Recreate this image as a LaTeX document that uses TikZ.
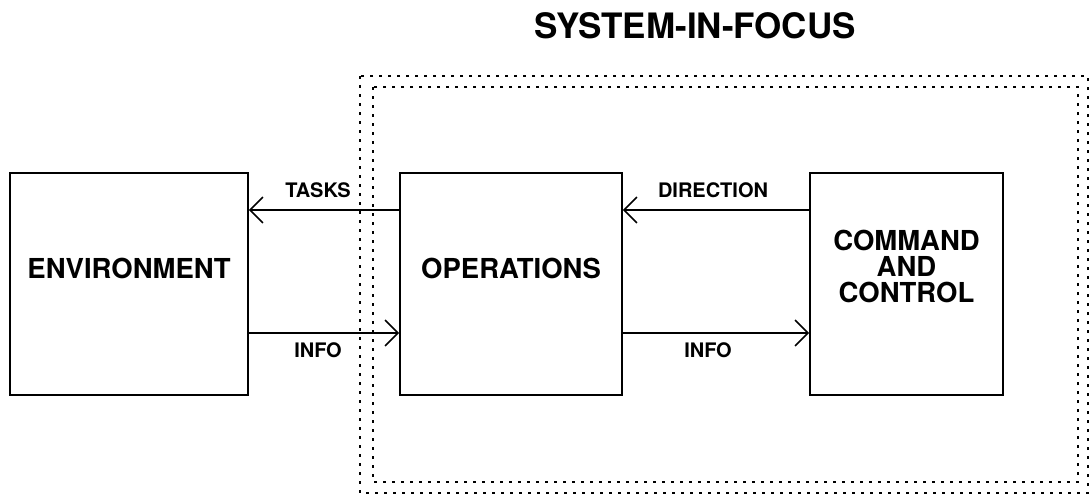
\documentclass[tikz,border=0pt]{standalone}
\usepackage{fontspec}
\setmainfont{TeX Gyre Heros}
\usetikzlibrary{arrows.meta}

\tikzset{
  block/.style={draw, line width=1.8pt, rectangle, minimum height=222pt, inner sep=0pt},
  blocktext/.style={font=\fontsize{27.5}{26}\selectfont\bfseries, align=center, inner sep=0pt},
  flow/.style={line width=1.5pt, -{Straight Barb[length=13pt,width=26pt,line width=1.5pt]}},
  flowlabel/.style={font=\fontsize{20}{20}\selectfont\bfseries, anchor=base, inner sep=0pt},
  boundary/.style={line width=1.6pt, dash pattern=on 3pt off 6pt},
}

\begin{document}
\begin{tikzpicture}[x=1pt, y=-1pt]
  \useasboundingbox (0,0) rectangle (1090,495);

  % system boundary, drawn as a double dotted frame
  \draw[boundary] (360,76) rectangle (1088,493);
  \draw[boundary] (373,87) rectangle (1078,482);

  % title
  \node[font=\fontsize{35}{35}\selectfont\bfseries, anchor=base, inner sep=0pt]
    (title) at (695,39) {SYSTEM-IN-FOCUS};

  % blocks
  \node[block, minimum width=238pt] (env) at (129,284) {};
  \node[block, minimum width=222pt] (ops) at (511,284) {};
  \node[block, minimum width=193pt] (cmd) at (906.5,284) {};

  % block captions, set a little above the middle
  \node[blocktext] (envtext) at ([yshift=16pt]env.center) {ENVIRONMENT};
  \node[blocktext] (opstext) at ([yshift=16pt]ops.center) {OPERATIONS};
  \node[blocktext] (cmdtext) at ([yshift=18pt]cmd.center) {COMMAND\\AND\\CONTROL};

  % flows between the blocks
  \draw[flow] ([yshift=74pt]ops.west) -- node[flowlabel, xshift=-6pt, yshift=13pt] (tasks) {TASKS} ([yshift=74pt]env.east);
  \draw[flow] ([yshift=-49pt]env.east) -- node[flowlabel, xshift=-6pt, yshift=-24pt] (info1) {INFO} ([yshift=-49pt]ops.west);
  \draw[flow] ([yshift=74pt]cmd.west) -- node[flowlabel, xshift=-3pt, yshift=13pt] (dir) {DIRECTION} ([yshift=74pt]ops.east);
  \draw[flow] ([yshift=-49pt]ops.east) -- node[flowlabel, xshift=-8pt, yshift=-24pt] (info2) {INFO} ([yshift=-49pt]cmd.west);
\end{tikzpicture}
\end{document}
